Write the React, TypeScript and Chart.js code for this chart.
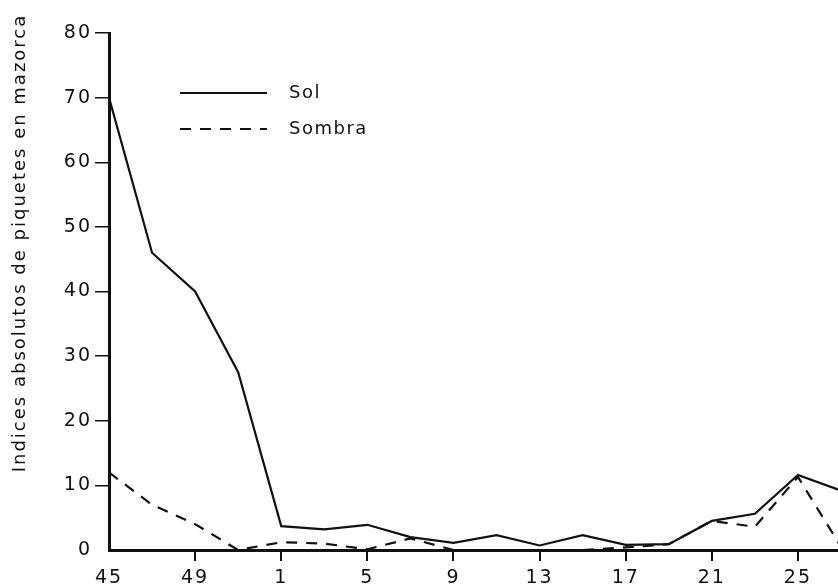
import { useEffect, useRef } from 'react';
import { Chart, registerables } from 'chart.js';

Chart.register(...registerables);

// Sampling weeks (every two weeks, crossing the new year)
const weeks = [45, 47, 49, 51, 1, 3, 5, 7, 9, 11, 13, 15, 17, 19, 21, 23, 25, 27];
const solValues = [70, 46, 40, 27.5, 3.7, 3.2, 3.9, 2.0, 1.1, 2.3, 0.7, 2.3, 0.8, 0.9, 4.5, 5.6, 11.6, 9.2];
const sombraValues = [12, 7, 4, 0, 1.2, 1.0, 0.1, 1.8, 0, 0, 0, 0, 0.4, 0.9, 4.5, 3.6, 11.3, 0.5];
const weekTicks = [45, 49, 1, 5, 9, 13, 17, 21, 25];
const yTicks = [0, 10, 20, 30, 40, 50, 60, 70, 80];
const seriesLabels = ['Sol', 'Sombra'];
const yTitle = 'Indices absolutos de piquetes en mazorca';

const FIRST_WEEK = 45;
const WEEKS_PER_YEAR = 52;
const weekPos = (w: number) => (w >= FIRST_WEEK ? w - FIRST_WEEK : w + WEEKS_PER_YEAR - FIRST_WEEK);

const INK = '#111';
const FONT = '"DejaVu Sans", sans-serif';
const TICK_SPACING = '2px';

const spacingPlugin = {
  id: 'letterSpacing',
  beforeLayout(chart: any) {
    chart.ctx.letterSpacing = TICK_SPACING;
  },
  beforeDraw(chart: any) {
    chart.ctx.letterSpacing = TICK_SPACING;
  },
};

const overlayPlugin = {
  id: 'overlay',
  afterDraw(chart: any) {
    const { ctx, chartArea } = chart;
    ctx.save();
    ctx.fillStyle = INK;

    // rotated axis title
    ctx.save();
    ctx.letterSpacing = '2px';
    ctx.font = `18px ${FONT}`;
    ctx.translate(20, chartArea.top + 210);
    ctx.rotate(-Math.PI / 2);
    ctx.textAlign = 'center';
    ctx.textBaseline = 'middle';
    ctx.fillText(yTitle, 0, 0);
    ctx.restore();

    // legend samples
    ctx.letterSpacing = '1.5px';
    ctx.font = `18px ${FONT}`;
    const x0 = chartArea.left + 71;
    const x1 = chartArea.left + 158;
    const tx = chartArea.left + 180;
    const rows = [chartArea.top + 60, chartArea.top + 96];
    chart.data.datasets.forEach((ds: any, i: number) => {
      const y = rows[i];
      ctx.save();
      ctx.strokeStyle = ds.borderColor;
      ctx.lineWidth = ds.borderWidth;
      ctx.setLineDash(ds.borderDash || []);
      ctx.beginPath();
      ctx.moveTo(x0, y);
      ctx.lineTo(x1, y);
      ctx.stroke();
      ctx.restore();
      ctx.textAlign = 'left';
      ctx.textBaseline = 'middle';
      ctx.fillText(ds.label, tx, y);
    });
    ctx.restore();
  },
};

export default function App() {
  const canvasRef = useRef<HTMLCanvasElement | null>(null);

  useEffect(() => {
    if (!canvasRef.current) return;
    Chart.defaults.font.family = FONT;
    const chart = new Chart(canvasRef.current, {
      type: 'line',
      data: {
        datasets: [
          {
            label: seriesLabels[0],
            data: weeks.map((w, i) => ({ x: weekPos(w), y: solValues[i] })),
            borderColor: INK,
            borderWidth: 2.2,
            pointRadius: 0,
            tension: 0,
            fill: false,
          },
          {
            label: seriesLabels[1],
            data: weeks.map((w, i) => ({ x: weekPos(w), y: sombraValues[i] })),
            borderColor: INK,
            borderWidth: 2.2,
            borderDash: [11, 9],
            pointRadius: 0,
            tension: 0,
            fill: false,
          },
        ],
      },
      options: {
        animation: false,
        responsive: false,
        layout: { padding: { top: 33, right: 0, left: 0, bottom: 0 } },
        plugins: { legend: { display: false }, tooltip: { enabled: false } },
        scales: {
          x: {
            type: 'linear',
            min: 0,
            max: 33.86,
            border: { display: true, width: 3, color: INK },
            grid: {
              drawOnChartArea: false,
              drawTicks: true,
              tickLength: 11,
              lineWidth: 2,
              color: (c: any) => (c.tick && c.tick.value === 0 ? 'rgba(0,0,0,0)' : INK),
            },
            ticks: {
              color: INK,
              font: { size: 19 },
              padding: 6,
              maxRotation: 0,
              autoSkip: false,
              callback: (v: any) => {
                const w = weekTicks.find((t) => weekPos(t) === v);
                return w === undefined ? null : String(w);
              },
            },
            afterBuildTicks: (s: any) => {
              s.ticks = weekTicks.map((w) => ({ value: weekPos(w) }));
            },
            afterFit: (s: any) => {
              s.height = 37;
            },
          },
          y: {
            type: 'linear',
            min: 0,
            max: 80,
            border: { display: true, width: 3, color: INK },
            grid: {
              drawOnChartArea: false,
              drawTicks: true,
              tickLength: 14,
              lineWidth: 1.5,
              color: (c: any) => (c.tick && c.tick.value === 0 ? 'rgba(0,0,0,0)' : INK),
            },
            ticks: {
              color: INK,
              font: { size: 19 },
              padding: 3,
              callback: (v: any) => String(v),
            },
            afterBuildTicks: (s: any) => {
              s.ticks = yTicks.map((v) => ({ value: v }));
            },
            afterFit: (s: any) => {
              s.width = 109;
            },
          },
        },
      },
      plugins: [spacingPlugin, overlayPlugin],
    });
    return () => chart.destroy();
  }, []);

  return (
    <div style={{ position: 'fixed', left: 0, top: 0, width: 838, height: 587, background: '#fff' }}>
      <canvas ref={canvasRef} width={838} height={587} style={{ display: 'block' }} />
    </div>
  );
}
